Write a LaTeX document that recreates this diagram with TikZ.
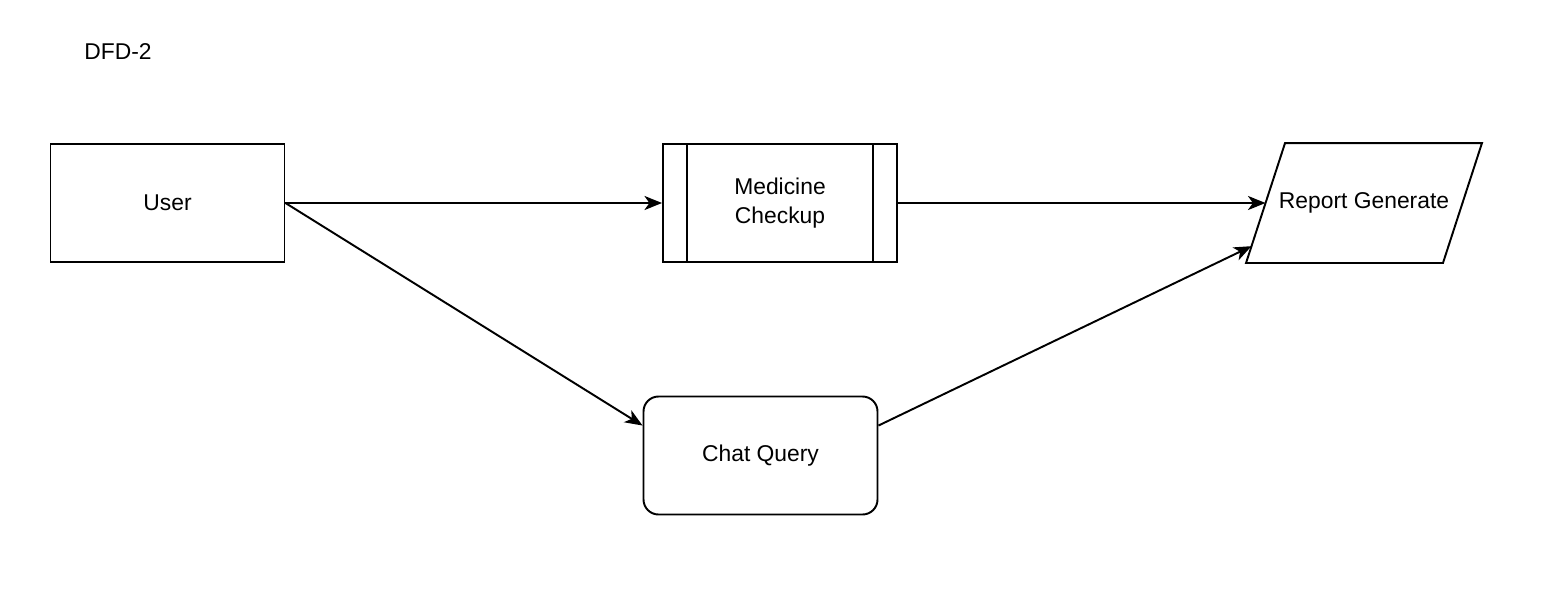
\documentclass[tikz,border=0pt]{standalone}
\usepackage{fontspec}
\setmainfont{Liberation Sans}
\usetikzlibrary{arrows.meta,positioning,calc}
\tikzset{>={Stealth[length=10pt,width=8pt,inset=2.8pt]}, line/.style={line width=1.1pt},
box/.style={draw, line width=1.1pt, minimum width=4.68cm, minimum height=2.36cm, align=center, inner sep=0pt, font=\fontsize{13}{16.4}\selectfont},
procbox/.style={box, path picture={
  \draw[line] ([xshift=0.48cm]path picture bounding box.north west) -- ([xshift=0.48cm]path picture bounding box.south west);
  \draw[line] ([xshift=-0.48cm]path picture bounding box.north east) -- ([xshift=-0.48cm]path picture bounding box.south east);}},
roundbox/.style={box, rounded corners=0.3cm},
slantbox/.style={box, draw=none},
note/.style={font=\fontsize{13}{16.4}\selectfont}}

\begin{document}
\begin{tikzpicture}
\useasboundingbox (0,0) rectangle (31.04,11.82);
\def\sl{0.78cm}
% Title
\node[note] (title) at (2.36,10.78) {DFD-2};
% Entities and processes
\node[box] (user) at (3.35,7.76) {User};
\node[procbox] (med) at (15.6,7.76) {Medicine\\Checkup};
\node[slantbox] (rep) at (27.28,7.76) {Report Generate};
\node[roundbox] (chat) at (15.21,2.71) {Chat Query};
% Parallelogram outline
\coordinate (rep-tl) at ([xshift=\sl]rep.north west);
\coordinate (rep-br) at ([xshift=-\sl]rep.south east);
\draw[line] (rep-tl) -- (rep.north east) -- (rep-br) -- (rep.south west) -- cycle;
% Flows
\draw[line,->] (user.east) -- (med.west);
\draw[line,->] (user.east) -- ([yshift=-0.6cm]chat.north west);
\draw[line,->] (med.east) -- ($(rep.south west)!0.5!(rep-tl)$);
\draw[line,->] ([yshift=-0.6cm]chat.north east) -- ($(rep.south west)!0.14!(rep-tl)$);
\end{tikzpicture}
\end{document}
